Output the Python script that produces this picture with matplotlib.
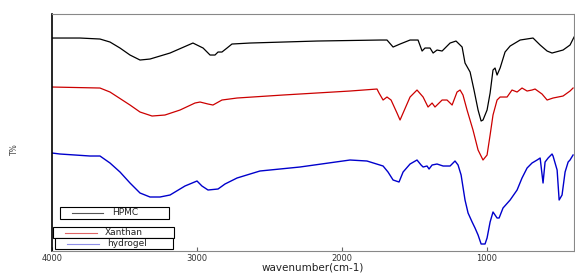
import numpy as np
import matplotlib
matplotlib.use("Agg")
import matplotlib.pyplot as plt
from matplotlib.patches import Rectangle

# FTIR spectra (wavenumber in cm-1, relative T% with stacking offset)
hpmc_wn = [4000, 3807, 3669, 3600, 3531, 3462, 3393, 3324, 3186, 3028, 2958, 2910, 2876,
           2855, 2828, 2793, 2759, 2634, 2172, 1738, 1690, 1648, 1600, 1531, 1476, 1448,
           1428, 1393, 1372, 1345, 1310, 1255, 1214, 1172, 1152, 1117, 1090, 1062, 1041,
           1028, 1000, 979, 959, 945, 931, 910, 876, 841, 772, 683, 634, 586, 552, 476,
           428, 400]
hpmc_t = [213, 213, 212, 209, 203, 196, 191, 192, 198, 208, 203, 196, 196,
          199, 199, 203, 207, 208, 210, 211, 211, 204, 207, 211, 211, 200,
          203, 203, 198, 201, 200, 208, 210, 204, 188, 179, 161, 141, 130,
          131, 141, 158, 181, 183, 176, 183, 199, 205, 211, 213, 206, 200, 198, 201,
          206, 214]

xanthan_wn = [4000, 3669, 3600, 3462, 3393, 3310, 3221, 3117, 3014, 2979, 2924, 2890, 2828,
              2724, 2407, 1945, 1759, 1745, 1717, 1690, 1662, 1621, 1600, 1579, 1531, 1483,
              1441, 1407, 1379, 1359, 1310, 1276, 1241, 1207, 1186, 1166, 1138, 1097, 1062,
              1028, 1000, 979, 959, 931, 910, 862, 828, 793, 759, 724, 690, 669, 621, 586,
              545, 476, 428, 407]
xanthan_t = [164, 163, 159, 146, 139, 135, 136, 141, 148, 149, 147, 146, 151,
             153, 156, 160, 162, 158, 151, 154, 151, 138, 131, 138, 154, 161,
             154, 144, 148, 144, 151, 151, 146, 159, 161, 156, 141, 121, 101,
             91, 96, 116, 136, 151, 154, 154, 161, 159, 163, 160, 161, 162, 157, 151,
             153, 155, 160, 163]

hydrogel_wn = [4000, 3945, 3841, 3738, 3669, 3600, 3531, 3462, 3393, 3324, 3255, 3186, 3083,
               3000, 2966, 2924, 2855, 2807, 2724, 2634, 2566, 2290, 1945, 1828, 1717, 1683,
               1648, 1607, 1579, 1531, 1483, 1455, 1441, 1414, 1400, 1379, 1345, 1303, 1255,
               1221, 1200, 1179, 1152, 1131, 1103, 1083, 1062, 1041, 1014, 1000, 979, 959,
               931, 917, 890, 841, 793, 759, 724, 690, 655, 634, 614, 600, 579, 552, 545,
               517, 503, 483, 462, 441, 428, 407]
hydrogel_t = [98, 97, 96, 95, 95, 88, 79, 68, 58, 54, 54, 56, 65,
              70, 65, 61, 62, 67, 73, 77, 80, 84, 91, 90, 85, 79,
              71, 69, 79, 87, 91, 86, 84, 85, 82, 86, 87, 85, 85,
              90, 86, 76, 51, 38, 29, 23, 16, 7, 7, 13, 29, 39,
              33, 33, 43, 51, 61, 73, 83, 88, 91, 93, 68, 89, 93, 97, 95,
              81, 51, 56, 79, 89, 91, 96]

labels = ["HPMC", "Xanthan", "hydrogel"]
colors = ["#000000", "#cc0000", "#0000cc"]
legend_colors = ["#555555", "#e06666", "#8f8fe8"]
xticks = [4000, 3000, 2000, 1000]

fig = plt.figure(figsize=(5.75, 2.73), dpi=100)
ax = fig.add_axes([0.0904, 0.0806, 0.908, 0.868])

ax.plot(hpmc_wn, hpmc_t, color=colors[0], lw=0.9)
ax.plot(xanthan_wn, xanthan_t, color=colors[1], lw=0.9)
ax.plot(hydrogel_wn, hydrogel_t, color=colors[2], lw=1.0)

ax.set_xlim(4000, 400)
ax.set_ylim(0, 237)
ax.set_xticks(xticks)
ax.set_xticklabels([str(t) for t in xticks], fontsize=6, color="#333333")
ax.set_yticks([])
ax.tick_params(axis="x", direction="in", length=3, color="#666666", pad=2)
for s in ["top", "right", "bottom"]:
    ax.spines[s].set_color("#888888")
    ax.spines[s].set_linewidth(0.8)
ax.spines["left"].set_color("black")
ax.spines["left"].set_linewidth(1.2)

ax.set_xlabel("wavenumber(cm-1)", fontsize=7.5, color="#222222", labelpad=-0.5)
fig.text(0.026, 0.455, "T%", rotation=90, fontsize=5.5, color="#444444",
         ha="center", va="center")


# three separate legend boxes, as in the original figure
def legend_box(box, line_x, text_x, label, color):
    x0, y0, x1, y1 = box
    ax.add_patch(Rectangle((x0, y0), x1 - x0, y1 - y0, transform=ax.transAxes,
                           facecolor="white", edgecolor="black", lw=0.8, zorder=5))
    ym = (y0 + y1) / 2
    ax.plot(line_x, [ym, ym], transform=ax.transAxes, color=color, lw=0.8, zorder=6)
    ax.text(text_x, ym, label, transform=ax.transAxes, fontsize=6.5, color="#222222",
            va="center", ha="left", zorder=6)


legend_box((0.015, 0.135, 0.224, 0.186), [0.038, 0.097], 0.115, labels[0], legend_colors[0])
legend_box((0.002, 0.055, 0.234, 0.101), [0.025, 0.086], 0.102, labels[1], legend_colors[1])
legend_box((0.006, 0.008, 0.232, 0.055), [0.029, 0.090], 0.105, labels[2], legend_colors[2])

fig.savefig("out.png", dpi=100)
